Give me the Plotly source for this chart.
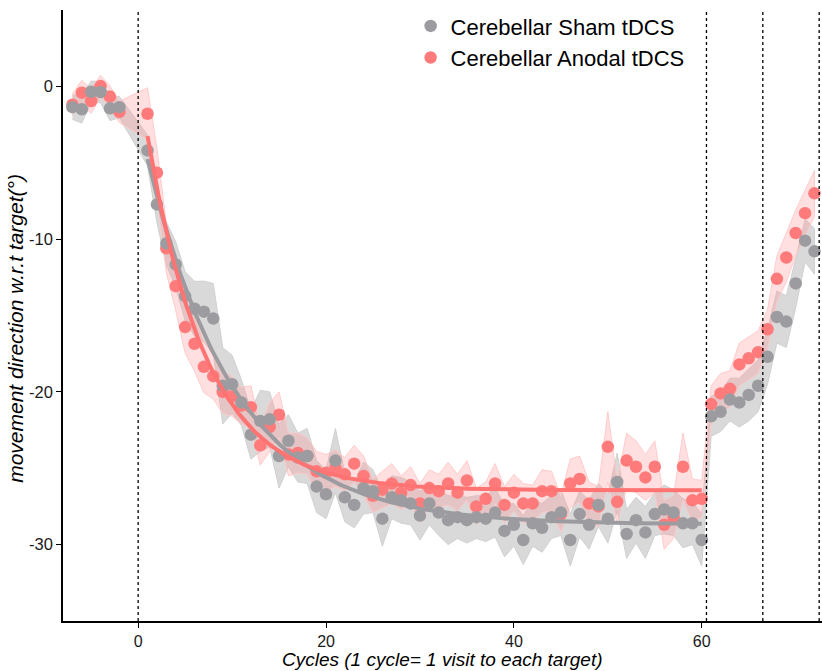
import numpy as np
import plotly.graph_objects as go

# ---------------- data ----------------
base_cycles = [-7, -6, -5, -4, -3, -2]
train_cycles = list(range(1, 61))
post_cycles = list(range(61, 73))

sham_base = [-1.36, -1.5, -0.35, -0.37, -1.44, -1.36]
anodal_base = [-1.2, -0.41, -0.96, 0.02, -0.67, -1.67]

sham_train = [-4.19, -7.73, -10.28, -11.66, -13.73, -14.56, -14.75, -15.2, -19.6, -19.5,
              -20.7, -22.8, -21.9, -21.8, -24.2, -23.2, -24.3, -24.2, -26.2, -26.7,
              -24.5, -26.9, -27.4, -26.3, -26.5, -28.3, -26.9, -27.1, -27.3, -28.1,
              -27.3, -27.9, -28.4, -28.2, -28.4, -28.2, -28.3, -27.9, -29.1, -28.7,
              -29.7, -28.6, -28.9, -28.2, -27.9, -29.7, -28.0, -28.7, -27.4, -28.3,
              -25.9, -29.3, -28.4, -29.2, -28.0, -27.7, -27.9, -28.6, -28.6, -29.7]
anodal_train = [-1.79, -5.65, -10.6, -13.08, -15.76, -16.85, -18.36, -18.97, -20.0, -20.3,
                -20.9, -21.0, -23.5, -22.3, -21.5, -24.1, -24.0, -24.2, -25.2, -25.3,
                -25.0, -25.4, -24.7, -25.5, -26.8, -26.4, -26.0, -26.6, -26.1, -27.3,
                -26.3, -26.5, -26.0, -26.6, -25.8, -27.5, -27.0, -26.0, -27.4, -26.6,
                -27.3, -27.3, -26.5, -26.5, -28.0, -26.0, -25.7, -27.3, -27.5, -23.6,
                -27.2, -24.5, -24.9, -25.6, -24.9, -28.7, -28.2, -24.9, -27.1, -27.0]

sham_post = [-21.6, -21.3, -20.5, -20.7, -20.2, -19.6, -17.7, -15.1, -15.4, -12.9, -10.1, -10.8]
anodal_post = [-20.8, -20.1, -19.8, -18.2, -17.8, -17.4, -15.9, -12.6, -11.2, -9.6, -8.3, -7.0]

# standard errors (ribbon half-widths)
sham_se_base = [0.8, 0.9, 0.7, 0.7, 0.8, 0.7]
anodal_se_base = [0.7, 0.8, 0.8, 0.7, 0.7, 0.7]
sham_se_train = [1.0, 1.2, 1.4, 1.5, 1.6, 1.8, 2.0, 2.3, 2.5, 1.9,
                 1.5, 1.6, 2.0, 1.8, 2.1, 1.7, 1.6, 1.8, 1.7, 1.6,
                 2.1, 1.6, 1.5, 1.7, 1.4, 1.8, 1.4, 1.5, 1.4, 1.6,
                 1.4, 1.5, 1.6, 1.4, 1.5, 1.4, 1.5, 1.6, 1.7, 1.4,
                 1.6, 1.5, 1.6, 1.4, 1.5, 1.7, 1.5, 1.6, 1.4, 1.6,
                 1.9, 1.6, 1.5, 1.7, 1.4, 1.6, 1.5, 1.6, 1.4, 1.7]
anodal_se_train = [1.7, 1.6, 1.6, 1.6, 1.7, 1.8, 1.7, 1.5, 1.4, 1.3,
                   1.2, 1.4, 1.3, 1.6, 1.5, 1.4, 1.3, 1.2, 1.3, 1.2,
                   1.2, 1.1, 1.2, 1.3, 1.1, 1.2, 1.3, 1.1, 1.2, 1.3,
                   1.2, 1.1, 1.4, 1.2, 1.3, 1.2, 1.1, 1.3, 1.2, 1.2,
                   1.3, 1.2, 1.4, 1.3, 1.2, 1.6, 1.5, 1.4, 1.3, 2.3,
                   1.4, 1.8, 1.7, 1.5, 1.7, 1.6, 1.4, 2.2, 1.4, 1.2]
sham_se_post = [1.3, 1.3, 1.4, 1.6, 1.7, 1.7, 1.8, 1.7, 1.7, 1.6, 1.4, 1.5]
anodal_se_post = [1.2, 1.3, 1.2, 1.4, 1.4, 1.4, 1.3, 1.5, 1.6, 1.5, 1.5, 1.5]

phase_boundaries = [0, 60.5, 66.5, 72.5]
x_ticks = [0, 20, 40, 60]
y_ticks = [0, -10, -20, -30]

names = ["Cerebellar Sham tDCS", "Cerebellar Anodal tDCS"]
point_colors = ["#9c9ca0", "#ff7b7b"]
line_colors = ["#9c9ca0", "#ff7373"]
ribbon_fill = ["rgba(160,160,160,0.40)", "rgba(255,150,150,0.30)"]
ribbon_edge = ["rgba(205,205,205,0.9)", "rgba(255,200,200,0.9)"]

# ---------------- assemble ----------------
all_x = np.array(base_cycles + train_cycles + post_cycles, dtype=float)
series = [
    (np.array(sham_base + sham_train + sham_post), np.array(sham_se_base + sham_se_train + sham_se_post), np.array(sham_train)),
    (np.array(anodal_base + anodal_train + anodal_post), np.array(anodal_se_base + anodal_se_train + anodal_se_post), np.array(anodal_train)),
]


def fit_exp(x, y):
    """least-squares fit y = a + b*exp(-k*(x-1)) via grid search on k"""
    best = None
    for k in np.linspace(0.01, 0.6, 1181):
        A = np.column_stack([np.ones_like(x), np.exp(-k * (x - 1))])
        coef, *_ = np.linalg.lstsq(A, y, rcond=None)
        sse = float(np.sum((A @ coef - y) ** 2))
        if best is None or sse < best[0]:
            best = (sse, k, coef)
    return best[1], best[2]


fig = go.Figure()

# ribbons
for i, (y, se, _) in enumerate(series):
    lo = y - se
    hi = y + se
    fig.add_trace(go.Scatter(
        x=np.concatenate([all_x, all_x[::-1]]),
        y=np.concatenate([hi, lo[::-1]]),
        fill="toself", fillcolor=ribbon_fill[i],
        line=dict(color=ribbon_edge[i], width=1),
        mode="lines", hoverinfo="skip", showlegend=False))

# points (anodal first, sham on top)
for i in [1, 0]:
    y = series[i][0]
    fig.add_trace(go.Scatter(
        x=all_x, y=y, mode="markers", name=names[i], legendrank=i + 1,
        marker=dict(color=point_colors[i], size=12.5, line=dict(width=0))))

# fitted exponential curves over training phase
xt = np.array(train_cycles, dtype=float)
xf = np.linspace(1, 60, 300)
for i in [0, 1]:
    k, coef = fit_exp(xt, series[i][2])
    yf = coef[0] + coef[1] * np.exp(-k * (xf - 1))
    fig.add_trace(go.Scatter(x=xf, y=yf, mode="lines", showlegend=False,
                             line=dict(color=line_colors[i], width=4), hoverinfo="skip"))

# phase boundaries
for xb in phase_boundaries:
    fig.add_shape(type="line", x0=xb, x1=xb, y0=0, y1=1, xref="x", yref="paper",
                  line=dict(color="black", width=1.3, dash="dot"))

# axis titles (as annotations for exact placement)
fig.add_annotation(text="<i>movement direction w.r.t target(°)</i>", textangle=-90,
                   xref="paper", yref="paper", x=-0.0635, y=0.4795,
                   xanchor="center", yanchor="middle", showarrow=False,
                   font=dict(size=21, color="black"))
fig.add_annotation(text="<i>Cycles (1 cycle= 1 visit to each target)</i>",
                   xref="paper", yref="paper", x=0.5, y=-0.0638,
                   xanchor="center", yanchor="middle", showarrow=False,
                   font=dict(size=19, color="black"))

fig.update_layout(
    width=822, height=671,
    margin=dict(l=63, r=0, t=10, b=50),
    plot_bgcolor="white", paper_bgcolor="white",
    font=dict(family="Liberation Sans, Arial, sans-serif", color="black"),
    legend=dict(x=0.458, y=1.008, xanchor="left", yanchor="top",
                font=dict(size=22, color="black"), bgcolor="rgba(0,0,0,0)",
                tracegroupgap=0, itemsizing="trace"),
    xaxis=dict(range=[-8, 72.8], tickvals=x_ticks, ticktext=[str(v) for v in x_ticks],
               showgrid=False, zeroline=False, showline=True, linecolor="black", linewidth=1.5,
               ticks="outside", ticklen=5, tickwidth=1.2, tickcolor="black",
               tickfont=dict(size=16, color="#1a1a1a")),
    yaxis=dict(range=[-35, 5], tickvals=y_ticks, ticktext=[str(v) for v in y_ticks],
               showgrid=False, zeroline=False, showline=True, linecolor="black", linewidth=1.5,
               ticks="outside", ticklen=5, tickwidth=1.2, tickcolor="black",
               tickfont=dict(size=16.5, color="#1a1a1a")),
)

fig.write_html("out.html")
